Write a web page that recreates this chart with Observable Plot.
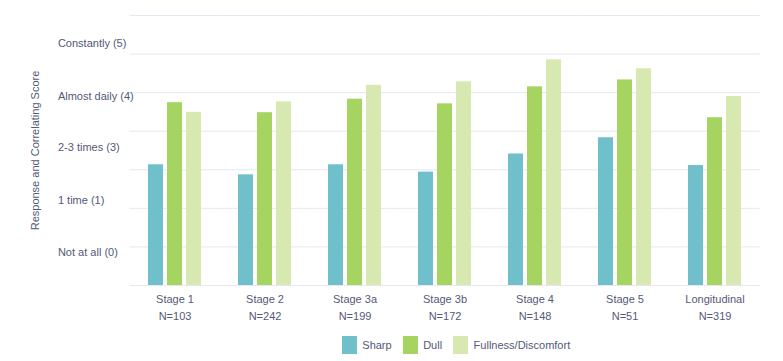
<!DOCTYPE html>
<html>
<head>
<meta charset="utf-8">
<script src="https://cdn.jsdelivr.net/npm/d3@7"></script>
<script src="https://cdn.jsdelivr.net/npm/@observablehq/plot@0.6"></script>
<style>
  html, body { margin: 0; padding: 0; background: #fff; }
  body { width: 783px; height: 361px; overflow: hidden; font-family: "Liberation Sans", Arial, sans-serif; }
  #legend { width: 783px; box-sizing: border-box; padding-left: 140px; }
  #legend > div { justify-content: center; }
</style>
</head>
<body>
<div id="chart"></div>
<div id="legend"></div>
<script>
const stages = ["Stage 1", "Stage 2", "Stage 3a", "Stage 3b", "Stage 4", "Stage 5", "Longitudinal"];
const sampleSizes = [103, 242, 199, 172, 148, 51, 319];
const seriesNames = ["Sharp", "Dull", "Fullness/Discomfort"];
const sharp = [3.13, 2.87, 3.13, 2.94, 3.41, 3.83, 3.11];
const dull = [4.74, 4.48, 4.83, 4.71, 5.15, 5.33, 4.35];
const fullness = [4.49, 4.76, 5.19, 5.28, 5.85, 5.62, 4.90];
const gridTicks = [0, 1, 2, 3, 4, 5, 6, 7];
const yTickLabels = ["Not at all (0)", "1 time (1)", "2-3 times (3)", "Almost daily (4)", "Constantly (5)"];
const yTickPositions = [0.86, 2.2, 3.57, 4.91, 6.27];
const colors = ["#70c0cb", "#a6d461", "#d7e9b0"];

const seriesValues = [sharp, dull, fullness];
const data = [];
stages.forEach((s, i) => seriesNames.forEach((n, j) => data.push({stage: s, series: n, value: seriesValues[j][i]})));

const W = 783, H = 328;
const plotLeft = 129, plotRight = 760, plotTop = 15, plotBottom = 285;
const pi = 0.39;
const step = (plotRight - plotLeft) / stages.length;
const halfGap = step * pi / 2;
const frameLeft = plotLeft + halfGap;
const textColor = "#545978";

const nOf = Object.fromEntries(stages.map((s, i) => [s, sampleSizes[i]]));
const labelOf = Object.fromEntries(yTickPositions.map((p, i) => [p, yTickLabels[i]]));

const chart = Plot.plot({
  width: W,
  height: H,
  marginLeft: plotLeft,
  marginRight: W - plotRight,
  marginTop: plotTop,
  marginBottom: H - plotBottom,
  style: {fontFamily: "Liberation Sans, Arial, sans-serif", fontSize: "11px", color: textColor, background: "#fff"},
  fx: {domain: stages, paddingInner: pi, paddingOuter: pi / 2, label: null},
  x: {domain: seriesNames, paddingInner: 0.22, paddingOuter: 0, axis: null},
  y: {domain: [0, 7], axis: null},
  color: {domain: seriesNames, range: colors},
  marks: [
    Plot.ruleY(gridTicks, {stroke: "#e5e7f2", strokeWidth: 1, insetLeft: -halfGap, insetRight: -halfGap}),
    Plot.barY(data, {fx: "stage", x: "series", y: "value", fill: "series"}),
    Plot.axisFx({
      anchor: "bottom",
      tickSize: 0,
      tickPadding: 6,
      lineHeight: 1.5,
      fill: textColor,
      tickFormat: (s) => `${s}\nN=${nOf[s]}`,
      label: null
    }),
    Plot.axisY(yTickPositions, {
      tickSize: 0,
      tickPadding: 0,
      textAnchor: "start",
      dx: 57 - frameLeft,
      fill: textColor,
      tickFormat: (v) => labelOf[v],
      label: "Response and Correlating Score",
      labelAnchor: "center",
      labelArrow: "none",
      labelOffset: frameLeft - 30
    })
  ]
});
document.getElementById("chart").appendChild(chart);

const legend = Plot.legend({
  color: {domain: seriesNames, range: colors},
  swatchWidth: 15,
  swatchHeight: 18,
  style: {fontFamily: "Liberation Sans, Arial, sans-serif", fontSize: "11px", color: textColor}
});
document.getElementById("legend").appendChild(legend);
</script>
</body>
</html>
